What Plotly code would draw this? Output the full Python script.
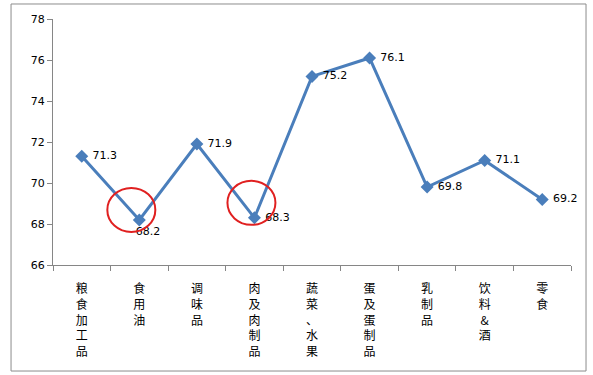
import plotly.graph_objects as go

categories = ["粮食加工品", "食用油", "调味品", "肉及肉制品", "蔬菜、水果", "蛋及蛋制品", "乳制品", "饮料&酒", "零食"]
values = [71.3, 68.2, 71.9, 68.3, 75.2, 76.1, 69.8, 71.1, 69.2]
label_pos = ["middle right", "bottom center", "middle right", "middle right", "middle right",
             "middle right", "middle right", "middle right", "middle right"]
tick_labels = ["<br>".join(list(c)) for c in categories]
highlight_idx = [1, 3]

NB = "\u00a0"
texts = []
for i, v in enumerate(values):
    if label_pos[i] == "bottom center":
        texts.append(NB * 5 + f"{v:.1f}")
    else:
        texts.append(NB + f"{v:.1f}")

fig = go.Figure()
fig.add_trace(go.Scatter(
    x=categories, y=values, mode="lines+markers+text",
    line=dict(color="#4A7EBB", width=3),
    marker=dict(symbol="diamond", size=10, color="#4A7EBB"),
    text=texts, textposition=label_pos,
    textfont=dict(family="DejaVu Sans", size=11, color="#000000"),
    cliponaxis=False, showlegend=False, hoverinfo="skip",
))

shapes = []
offsets = {1: (-8, 10), 3: (-3, 15)}
for i in highlight_idx:
    dx, dy = offsets[i]
    shapes.append(dict(
        type="circle", xref="x", yref="y", xsizemode="pixel", ysizemode="pixel",
        xanchor=categories[i], yanchor=values[i],
        x0=dx - 24, x1=dx + 24, y0=dy - 22, y1=dy + 22,
        line=dict(color="#E02020", width=2),
    ))
shapes.append(dict(type="rect", xref="paper", yref="paper",
                   x0=-0.081, x1=1.029, y0=-0.431, y1=1.061,
                   line=dict(color="#8C8C8C", width=1), layer="below"))

fig.update_layout(
    width=593, height=375,
    margin=dict(l=53, r=22, t=19, b=110),
    paper_bgcolor="white", plot_bgcolor="white",
    font=dict(family="DejaVu Sans, Noto Sans CJK SC", size=11, color="#000000"),
    shapes=shapes,
    xaxis=dict(
        type="category", tickvals=categories, ticktext=tick_labels,
        tickson="boundaries", ticks="outside", ticklen=5, tickcolor="#868686",
        showline=True, linecolor="#868686", linewidth=1, showgrid=False,
        tickangle=0, tickfont=dict(family="Noto Sans CJK SC", size=12),
        ticklabelstandoff=13,
        range=[-0.5, 8.5],
    ),
    yaxis=dict(
        range=[66, 78], dtick=2, ticks="outside", ticklen=5, tickcolor="#868686",
        showline=True, linecolor="#868686", linewidth=1, showgrid=False,
        zeroline=False, tickfont=dict(family="DejaVu Sans", size=11),
    ),
)

fig.write_html("out.html", config={"displayModeBar": False},
               post_script="document.body.style.margin='0';document.body.style.overflow='hidden';")
